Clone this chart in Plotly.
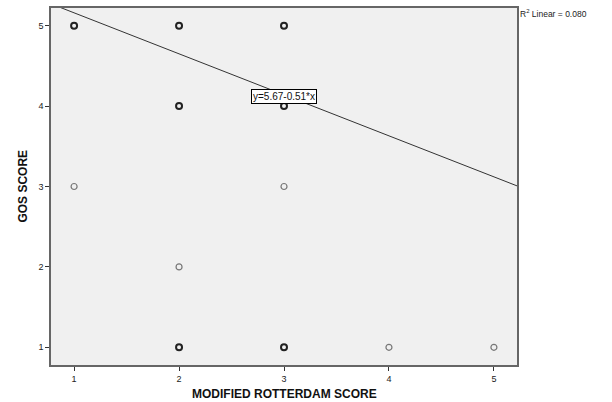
import plotly.graph_objects as go

# Data
x_heavy = [1, 2, 3, 2, 3, 2, 3]
y_heavy = [5, 5, 5, 4, 4, 1, 1]
x_light = [1, 3, 2, 4, 5]
y_light = [3, 3, 2, 1, 1]
intercept = 5.67
slope = -0.51
r2 = 0.080
x_ticks = [1, 2, 3, 4, 5]
y_ticks = [1, 2, 3, 4, 5]
x_range = [0.78, 5.22]
y_range = [0.78, 5.22]
x_title = "MODIFIED ROTTERDAM SCORE"
y_title = "GOS SCORE"

fit_x = [x_range[0], x_range[1]]
fit_y = [intercept + slope * v for v in fit_x]

FONT = "Liberation Sans, Arial"

fig = go.Figure()
fig.add_trace(go.Scatter(x=fit_x, y=fit_y, mode="lines",
                         line=dict(color="#333333", width=1), hoverinfo="skip"))
fig.add_trace(go.Scatter(x=x_light, y=y_light, mode="markers",
                         marker=dict(symbol="circle-open", size=6, color="#777777",
                                     line=dict(width=1.2, color="#777777"))))
fig.add_trace(go.Scatter(x=x_heavy, y=y_heavy, mode="markers",
                         marker=dict(symbol="circle-open", size=6, color="#222222",
                                     line=dict(width=2, color="#222222"))))

fig.add_annotation(x=3, y=4.12, xref="x", yref="y",
                   text=f"y={intercept:.2f}{slope:.2f}*x",
                   showarrow=False, bgcolor="white", bordercolor="black",
                   borderwidth=1, borderpad=1,
                   font=dict(family=FONT, size=10, color="#111111"))
fig.add_annotation(x=1.003, y=0.985, xref="paper", yref="paper", xanchor="left",
                   yanchor="middle",
                   text=f"R<sup>2</sup> Linear = {r2:.3f}", showarrow=False,
                   font=dict(family=FONT, size=8.5, color="#222222"))
fig.add_annotation(x=0.5, y=-0.081, xref="paper", yref="paper",
                   xanchor="center", yanchor="middle", showarrow=False,
                   text=f"<b>{x_title}</b>",
                   font=dict(family=FONT, size=12, color="#111111"))
fig.add_annotation(x=-0.062, y=0.5, xref="paper", yref="paper",
                   xanchor="center", yanchor="middle", showarrow=False,
                   textangle=-90, text=f"<b>{y_title}</b>",
                   font=dict(family=FONT, size=12, color="#111111"))

axis_common = dict(showgrid=False, zeroline=False, ticks="outside", ticklen=4,
                   tickwidth=1, tickcolor="#333333", showline=True,
                   linecolor="#666666", linewidth=1.5, mirror=True, automargin=False,
                   tickfont=dict(family=FONT, size=9, color="#222222"))

fig.update_xaxes(range=x_range, tickvals=x_ticks, **axis_common)
fig.update_yaxes(range=y_range, tickvals=y_ticks, **axis_common)

fig.update_layout(width=612, height=402, showlegend=False,
                  margin=dict(l=51, r=95, t=8, b=37),
                  plot_bgcolor="#f0f0f0", paper_bgcolor="white")

fig.write_html("out.html", config={"displayModeBar": False},
               post_script="document.body.style.margin='0';document.body.style.overflow='hidden';")
